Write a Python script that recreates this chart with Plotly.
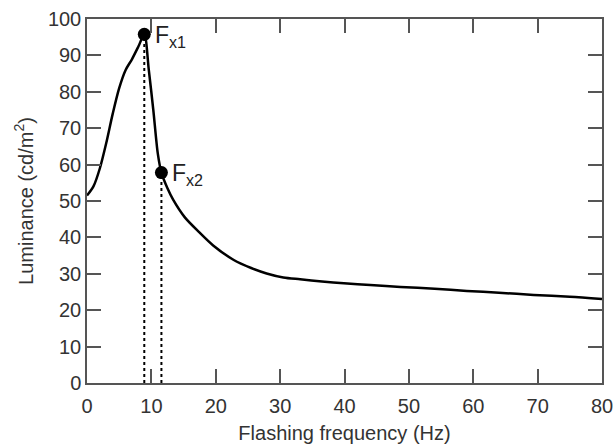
import plotly.graph_objects as go

freq = [0, 1, 2, 3, 4, 5, 6, 7, 8, 8.9, 9.6, 10.3, 11.0, 11.56, 12.5, 13.4, 15.2, 17.5, 19.6, 22.8, 25.5, 27.9, 30.5, 33.1, 36.5, 39.9, 44, 48.7, 54, 59, 64, 69.4, 75, 80]
lum = [51.5, 54, 59, 66, 74, 81, 86, 89, 92.5, 95.8, 86, 75, 63, 57.8, 53.5, 50.3, 45.5, 41.3, 37.8, 33.8, 31.6, 30.1, 29.0, 28.5, 27.9, 27.4, 26.9, 26.4, 25.9, 25.3, 24.8, 24.2, 23.7, 23.1]

fx_x = [8.9, 11.56]
fx_y = [95.8, 57.8]
fx_labels = ["F<sub>x1</sub>", "F<sub>x2</sub>"]

x_ticks = [0, 10, 20, 30, 40, 50, 60, 70, 80]
y_ticks = [0, 10, 20, 30, 40, 50, 60, 70, 80, 90, 100]

FONT = "Liberation Sans, Arial"

fig = go.Figure()
for xv, yv in zip(fx_x, fx_y):
    fig.add_trace(go.Scatter(x=[xv, xv], y=[0, yv], mode="lines",
                             line=dict(color="black", width=2, dash="dot"),
                             showlegend=False, hoverinfo="skip"))
fig.add_trace(go.Scatter(x=freq, y=lum, mode="lines",
                         line=dict(color="black", width=2.5, shape="spline", smoothing=0.8),
                         showlegend=False))
fig.add_trace(go.Scatter(x=fx_x, y=fx_y, mode="markers",
                         marker=dict(color="black", size=13),
                         showlegend=False))
for xv, yv, t in zip(fx_x, fx_y, fx_labels):
    fig.add_annotation(x=xv, y=yv, text=t, showarrow=False, xanchor="left",
                       yanchor="middle", xshift=9, yshift=-2,
                       font=dict(size=23, color="#222", family=FONT))

axis_common = dict(showline=True, linecolor="#555", linewidth=1.5, mirror="allticks",
                   ticks="inside", ticklen=14, tickwidth=1.5, tickcolor="#555",
                   showgrid=False, zeroline=False, automargin=False,
                   ticklabeloverflow="allow",
                   tickfont=dict(size=20, color="#333", family=FONT))
fig.update_xaxes(range=[0, 80], tickvals=x_ticks, ticklabelstandoff=4,
                 title=dict(text="Flashing frequency (Hz)", standoff=10,
                            font=dict(size=20, color="#333", family=FONT)),
                 **axis_common)
fig.update_yaxes(range=[0, 100], tickvals=y_ticks,
                 title=dict(text="Luminance (cd/m<sup>2</sup>)", standoff=9,
                            font=dict(size=20, color="#333", family=FONT)),
                 **axis_common)
fig.update_layout(width=613, height=447, margin=dict(l=87, r=11, t=19, b=64),
                  plot_bgcolor="white", paper_bgcolor="white")
fig.write_html("out.html")
